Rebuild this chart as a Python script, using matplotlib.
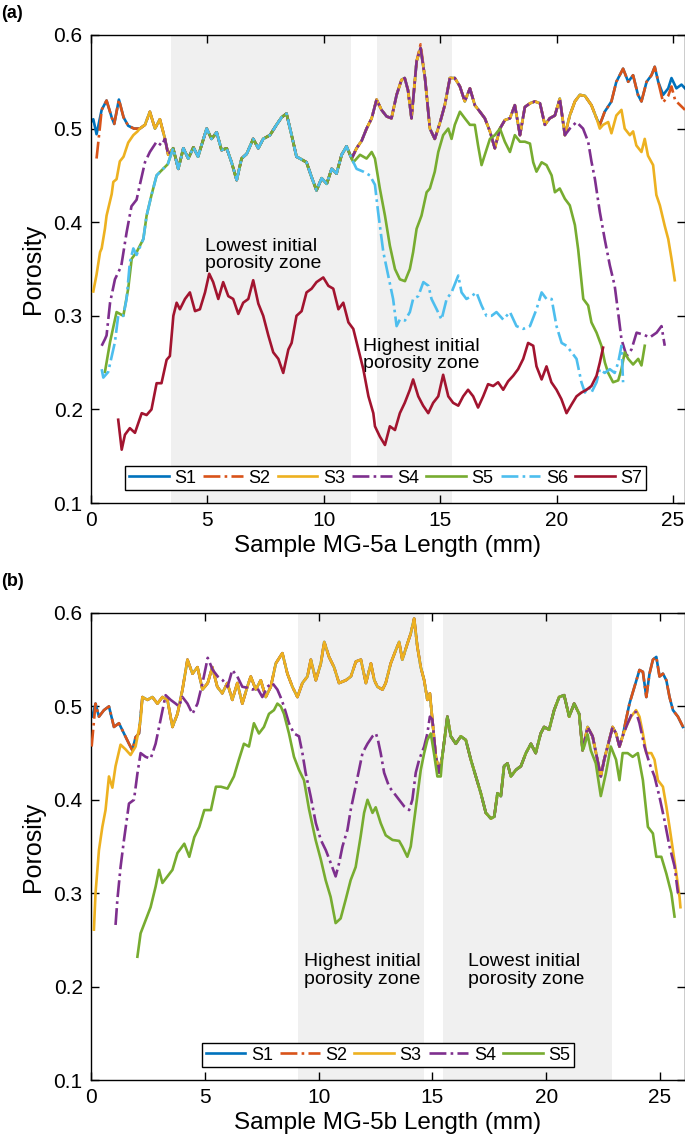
import matplotlib
matplotlib.use('Agg')
import matplotlib.pyplot as plt

plt.rcParams['font.family'] = ['Liberation Sans', 'DejaVu Sans']

# MATLAB default colour order
COLORS = ['#0072BD', '#D95319', '#EDB120', '#7E2F8E', '#77AC30', '#4DBEEE', '#A2142F']
STYLES = ['-', '-.', '-', '-.', '-', '-.', '-']
NAMES = ['S1', 'S2', 'S3', 'S4', 'S5', 'S6', 'S7']


def seg(pts, lo, hi):
    # part of a profile where another scan follows it
    return [p for p in pts if lo <= p[0] <= hi]


# --- (a) sample MG-5a : (length mm, porosity) ---
s1_a = [(0.0, 0.507), (0.1, 0.51), (0.24, 0.494), (0.46, 0.52), (0.67, 0.53), (0.89, 0.512),
        (1.0, 0.505), (1.2, 0.531), (1.4, 0.512), (1.6, 0.503), (1.85, 0.50), (2.1, 0.50),
        (2.32, 0.504), (2.53, 0.518), (2.75, 0.50), (2.96, 0.51), (3.18, 0.489), (3.32, 0.472),
        (3.53, 0.479), (3.75, 0.457), (3.97, 0.479), (4.18, 0.468), (4.4, 0.48), (4.6, 0.47),
        (4.97, 0.50), (5.18, 0.489), (5.4, 0.496), (5.61, 0.477), (5.83, 0.479), (6.04, 0.464),
        (6.26, 0.445), (6.47, 0.468), (6.69, 0.473), (6.97, 0.489), (7.19, 0.479), (7.4, 0.489),
        (7.69, 0.493), (7.97, 0.504), (8.19, 0.512), (8.4, 0.516), (8.62, 0.493), (8.83, 0.47),
        (9.05, 0.467), (9.26, 0.464), (9.48, 0.448), (9.69, 0.434), (9.91, 0.447), (10.13, 0.441),
        (10.34, 0.457), (10.55, 0.452), (10.77, 0.472), (10.98, 0.481), (11.2, 0.468), (11.41, 0.479),
        (11.63, 0.487), (11.84, 0.50), (12.06, 0.511), (12.27, 0.531), (12.48, 0.52), (12.7, 0.513),
        (12.91, 0.511), (13.13, 0.536), (13.34, 0.552), (13.48, 0.554), (13.62, 0.541), (13.77, 0.511),
        (13.99, 0.572), (14.16, 0.586), (14.35, 0.554), (14.56, 0.50), (14.77, 0.489), (14.99, 0.506),
        (15.2, 0.525), (15.42, 0.554), (15.63, 0.554), (15.85, 0.545), (16.06, 0.529), (16.28, 0.543),
        (16.49, 0.525), (16.71, 0.518), (16.92, 0.511), (17.14, 0.497), (17.35, 0.479), (17.57, 0.50),
        (17.78, 0.509), (18.0, 0.511), (18.21, 0.525), (18.43, 0.493), (18.64, 0.523), (18.86, 0.527),
        (19.07, 0.529), (19.29, 0.527), (19.5, 0.504), (19.71, 0.511), (19.93, 0.514), (20.14, 0.532),
        (20.36, 0.493), (20.57, 0.514), (20.79, 0.529), (21.0, 0.536), (21.22, 0.535), (21.5, 0.525),
        (21.72, 0.511), (21.86, 0.504), (22.07, 0.518), (22.36, 0.529), (22.57, 0.55), (22.86, 0.564),
        (23.08, 0.55), (23.29, 0.557), (23.5, 0.536), (23.65, 0.529), (23.87, 0.55), (24.08, 0.557),
        (24.22, 0.566), (24.37, 0.55), (24.58, 0.536), (24.8, 0.543), (24.94, 0.554), (25.15, 0.543),
        (25.37, 0.547), (25.52, 0.543)]

s2_a_start = [(0.24, 0.468), (0.39, 0.503)]
s2_a_end = [(24.58, 0.528), (24.8, 0.535), (24.94, 0.545), (25.1, 0.53), (25.23, 0.527), (25.52, 0.52)]

s3_a_start = [(0.1, 0.326), (0.17, 0.335), (0.24, 0.344), (0.39, 0.368), (0.46, 0.372), (0.6, 0.393),
              (0.67, 0.407), (0.89, 0.43), (0.96, 0.443), (1.1, 0.446), (1.24, 0.465), (1.4, 0.47),
              (1.6, 0.485), (1.82, 0.493), (2.0, 0.497)]
s3_a_end = [(21.86, 0.50), (22.0, 0.504), (22.22, 0.507), (22.36, 0.495), (22.57, 0.514), (22.79, 0.52),
            (22.93, 0.50), (23.15, 0.493), (23.29, 0.497), (23.43, 0.482), (23.65, 0.475), (23.79, 0.489),
            (23.93, 0.471), (24.15, 0.461), (24.29, 0.429), (24.44, 0.418), (24.65, 0.396), (24.8, 0.382),
            (24.94, 0.361), (25.08, 0.338)]

s4_a_start = [(0.46, 0.268), (0.6, 0.275), (0.67, 0.279), (0.82, 0.314), (1.03, 0.339), (1.3, 0.353),
              (1.53, 0.389), (1.74, 0.417), (1.96, 0.424), (2.1, 0.44), (2.32, 0.464), (2.53, 0.475),
              (2.82, 0.486), (3.03, 0.482)]
s4_a_end = [(20.57, 0.50), (20.86, 0.507), (21.14, 0.50), (21.36, 0.486), (21.5, 0.465), (21.65, 0.446),
            (21.86, 0.411), (22.07, 0.382), (22.29, 0.354), (22.5, 0.332), (22.65, 0.303), (22.79, 0.275),
            (23.01, 0.257), (23.22, 0.264), (23.44, 0.282), (23.72, 0.28), (24.01, 0.277), (24.3, 0.282),
            (24.51, 0.289), (24.65, 0.268)]

s5_a_start = [(0.6, 0.24), (0.82, 0.272), (1.1, 0.304), (1.39, 0.30), (1.6, 0.329), (1.75, 0.361),
              (1.96, 0.368), (2.25, 0.382), (2.39, 0.407), (2.6, 0.429), (2.82, 0.45), (3.1, 0.457),
              (3.3, 0.462)]
s5_a_end = [(11.27, 0.464), (11.56, 0.472), (11.84, 0.468), (12.06, 0.475), (12.2, 0.468), (12.41, 0.436),
            (12.63, 0.407), (12.84, 0.375), (13.06, 0.35), (13.27, 0.339), (13.49, 0.337), (13.7, 0.35),
            (13.84, 0.368), (13.99, 0.393), (14.2, 0.407), (14.42, 0.432), (14.56, 0.436), (14.77, 0.454),
            (14.92, 0.475), (15.13, 0.493), (15.35, 0.50), (15.49, 0.489), (15.63, 0.504), (15.85, 0.518),
            (16.06, 0.511), (16.28, 0.504), (16.49, 0.504), (16.63, 0.482), (16.78, 0.461), (16.92, 0.472),
            (17.14, 0.489), (17.35, 0.493), (17.57, 0.50), (17.78, 0.486), (18.0, 0.475), (18.21, 0.493),
            (18.43, 0.486), (18.64, 0.486), (18.86, 0.484), (19.0, 0.464), (19.14, 0.454), (19.36, 0.464),
            (19.57, 0.461), (19.79, 0.45), (19.93, 0.432), (20.14, 0.436), (20.36, 0.425), (20.57, 0.418),
            (20.79, 0.397), (20.93, 0.371), (21.15, 0.318), (21.36, 0.311), (21.5, 0.293), (21.72, 0.282),
            (21.93, 0.268), (22.08, 0.25), (22.22, 0.239), (22.43, 0.229), (22.65, 0.231), (22.79, 0.243),
            (22.93, 0.261), (23.08, 0.254), (23.29, 0.248), (23.51, 0.254), (23.65, 0.247), (23.79, 0.268)]

s6_a_start = [(0.46, 0.243), (0.53, 0.234), (0.74, 0.24), (1.03, 0.272), (1.17, 0.30), (1.39, 0.30),
              (1.53, 0.318), (1.67, 0.357), (1.82, 0.372), (1.96, 0.365), (2.25, 0.382), (2.39, 0.407),
              (2.6, 0.429), (2.82, 0.45), (3.1, 0.457), (3.3, 0.462)]
s6_a_end = [(11.41, 0.457), (11.7, 0.454), (11.98, 0.45), (12.2, 0.44), (12.34, 0.41), (12.56, 0.368),
            (12.77, 0.343), (12.98, 0.318), (13.13, 0.289), (13.27, 0.296), (13.49, 0.295), (13.7, 0.304),
            (13.84, 0.318), (14.06, 0.321), (14.28, 0.336), (14.5, 0.332), (14.63, 0.318), (14.85, 0.307),
            (15.06, 0.296), (15.28, 0.318), (15.49, 0.325), (15.78, 0.343), (15.92, 0.325), (16.13, 0.318),
            (16.35, 0.321), (16.56, 0.325), (16.78, 0.311), (16.99, 0.30), (17.21, 0.30), (17.42, 0.304),
            (17.71, 0.296), (18.0, 0.304), (18.28, 0.289), (18.57, 0.286), (18.86, 0.289), (19.14, 0.307),
            (19.36, 0.325), (19.57, 0.318), (19.79, 0.318), (20.0, 0.289), (20.22, 0.271), (20.43, 0.268),
            (20.65, 0.261), (20.86, 0.254), (21.07, 0.229), (21.22, 0.218), (21.36, 0.225), (21.5, 0.218),
            (21.72, 0.229), (21.86, 0.243), (22.07, 0.239), (22.29, 0.243), (22.5, 0.239), (22.65, 0.25),
            (22.79, 0.268), (22.86, 0.229)]

s7_a = [(1.17, 0.189), (1.32, 0.157), (1.46, 0.173), (1.67, 0.18), (1.89, 0.175), (2.18, 0.196),
        (2.39, 0.194), (2.6, 0.20), (2.82, 0.228), (3.03, 0.228), (3.25, 0.253), (3.39, 0.257),
        (3.54, 0.30), (3.68, 0.314), (3.82, 0.307), (4.04, 0.318), (4.25, 0.325), (4.47, 0.305),
        (4.68, 0.307), (4.9, 0.325), (5.08, 0.345), (5.25, 0.336), (5.47, 0.318), (5.68, 0.336),
        (5.9, 0.321), (6.11, 0.318), (6.33, 0.302), (6.54, 0.314), (6.76, 0.318), (6.97, 0.338),
        (7.19, 0.313), (7.4, 0.30), (7.62, 0.279), (7.83, 0.261), (8.05, 0.254), (8.26, 0.239),
        (8.48, 0.264), (8.62, 0.271), (8.83, 0.30), (9.05, 0.305), (9.26, 0.325), (9.48, 0.329),
        (9.69, 0.336), (9.98, 0.341), (10.2, 0.332), (10.41, 0.329), (10.63, 0.307), (10.84, 0.314),
        (11.06, 0.293), (11.27, 0.286), (11.49, 0.264), (11.7, 0.243), (11.92, 0.214), (12.13, 0.196),
        (12.2, 0.182), (12.41, 0.171), (12.63, 0.162), (12.84, 0.182), (13.06, 0.178), (13.27, 0.196),
        (13.48, 0.207), (13.7, 0.221), (13.84, 0.232), (14.06, 0.214), (14.27, 0.204), (14.49, 0.196),
        (14.7, 0.207), (14.92, 0.214), (15.13, 0.237), (15.35, 0.214), (15.56, 0.207), (15.78, 0.204),
        (15.99, 0.214), (16.2, 0.221), (16.42, 0.214), (16.63, 0.202), (16.85, 0.214), (17.06, 0.227),
        (17.28, 0.225), (17.49, 0.229), (17.71, 0.221), (17.92, 0.23), (18.14, 0.236), (18.35, 0.243),
        (18.57, 0.254), (18.78, 0.271), (19.0, 0.268), (19.14, 0.246), (19.36, 0.232), (19.57, 0.246),
        (19.78, 0.229), (20.0, 0.221), (20.21, 0.211), (20.43, 0.196), (20.64, 0.205), (20.86, 0.214),
        (21.07, 0.218), (21.29, 0.221), (21.5, 0.225), (21.72, 0.236), (21.86, 0.25), (22.0, 0.266)]

# --- (b) sample MG-5b ---
s1_b = [(0.0, 0.49), (0.06, 0.489), (0.2, 0.503), (0.35, 0.489), (0.57, 0.496), (0.79, 0.50),
        (1.01, 0.478), (1.23, 0.482), (1.45, 0.471), (1.67, 0.46), (1.82, 0.453), (1.96, 0.467),
        (2.11, 0.471), (2.26, 0.51), (2.48, 0.507), (2.7, 0.51), (2.92, 0.503), (3.14, 0.51),
        (3.36, 0.507), (3.58, 0.478), (3.8, 0.492), (4.02, 0.518), (4.24, 0.55), (4.46, 0.535),
        (4.68, 0.542), (4.9, 0.518), (5.13, 0.525), (5.33, 0.542), (5.55, 0.521), (5.77, 0.514),
        (5.99, 0.525), (6.21, 0.507), (6.43, 0.525), (6.65, 0.503), (6.87, 0.521), (7.02, 0.532),
        (7.24, 0.518), (7.46, 0.528), (7.68, 0.51), (7.9, 0.521), (8.12, 0.546), (8.41, 0.557),
        (8.63, 0.535), (8.85, 0.521), (9.07, 0.51), (9.29, 0.525), (9.51, 0.532), (9.66, 0.55),
        (9.88, 0.528), (10.1, 0.546), (10.25, 0.569), (10.46, 0.553), (10.68, 0.542), (10.9, 0.525),
        (11.2, 0.528), (11.42, 0.532), (11.64, 0.548), (11.86, 0.55), (12.08, 0.525), (12.3, 0.546),
        (12.45, 0.528), (12.59, 0.521), (12.81, 0.518), (12.95, 0.525), (13.17, 0.546), (13.39, 0.56),
        (13.54, 0.569), (13.68, 0.55), (13.9, 0.567), (14.05, 0.578), (14.2, 0.594), (14.34, 0.564),
        (14.49, 0.542), (14.64, 0.528), (14.78, 0.507), (14.89, 0.514), (15.0, 0.486), (15.15, 0.447),
        (15.3, 0.429), (15.44, 0.447), (15.66, 0.489), (15.81, 0.468), (16.03, 0.46), (16.25, 0.468),
        (16.47, 0.464), (16.69, 0.443), (16.91, 0.425), (17.13, 0.407), (17.35, 0.386), (17.57, 0.38),
        (17.72, 0.382), (17.86, 0.407), (18.01, 0.404), (18.15, 0.436), (18.3, 0.439), (18.45, 0.425),
        (18.67, 0.432), (18.89, 0.436), (19.11, 0.45), (19.33, 0.46), (19.54, 0.45), (19.76, 0.471),
        (19.91, 0.478), (20.13, 0.475), (20.35, 0.496), (20.57, 0.51), (20.79, 0.512), (21.01, 0.489),
        (21.23, 0.503), (21.45, 0.492), (21.6, 0.453), (21.82, 0.478), (22.04, 0.468), (22.19, 0.45),
        (22.4, 0.425), (22.55, 0.443), (22.7, 0.457), (22.92, 0.478), (23.07, 0.471), (23.22, 0.457),
        (23.36, 0.468), (23.51, 0.486), (23.66, 0.503), (23.88, 0.521), (24.1, 0.539), (24.25, 0.537),
        (24.4, 0.51), (24.54, 0.535), (24.69, 0.55), (24.84, 0.553), (24.98, 0.532), (25.13, 0.535),
        (25.28, 0.528), (25.42, 0.51), (25.57, 0.496), (25.79, 0.489), (26.01, 0.478)]

s2_b_start = [(0.03, 0.457), (0.15, 0.49)]
s2_b_end = [(26.1, 0.474)]

s3_b_start = [(0.13, 0.261), (0.2, 0.30), (0.35, 0.346), (0.5, 0.371), (0.64, 0.389), (0.79, 0.425),
              (0.94, 0.413), (1.08, 0.436), (1.3, 0.459), (1.52, 0.454), (1.74, 0.448), (1.96, 0.457),
              (2.18, 0.485)]
s3_b_end = [(23.51, 0.478), (23.73, 0.489), (23.95, 0.496), (24.1, 0.489), (24.25, 0.471), (24.4, 0.45),
            (24.62, 0.45), (24.76, 0.443), (24.91, 0.421), (25.13, 0.414), (25.28, 0.393), (25.42, 0.371),
            (25.57, 0.346), (25.72, 0.321), (25.86, 0.296), (25.9, 0.285)]

s4_b_start = [(1.08, 0.266), (1.16, 0.293), (1.3, 0.328), (1.45, 0.357), (1.67, 0.396), (1.89, 0.40),
              (2.04, 0.428), (2.18, 0.45), (2.4, 0.446), (2.62, 0.444), (2.84, 0.46), (3.06, 0.486),
              (3.28, 0.512), (3.5, 0.507), (3.72, 0.503), (3.87, 0.50), (4.02, 0.51), (4.24, 0.503),
              (4.46, 0.492), (4.68, 0.503), (4.9, 0.525), (5.13, 0.552), (5.35, 0.539), (5.57, 0.532),
              (5.79, 0.528), (6.0, 0.521), (6.21, 0.539), (6.43, 0.532), (6.65, 0.521), (6.87, 0.52),
              (7.1, 0.518), (7.3, 0.52), (7.53, 0.51), (7.75, 0.521), (7.97, 0.525), (8.19, 0.518),
              (8.33, 0.51), (8.48, 0.50), (8.7, 0.482), (8.92, 0.471), (9.14, 0.468), (9.29, 0.45),
              (9.43, 0.429), (9.65, 0.404), (9.88, 0.375), (10.1, 0.357), (10.32, 0.346), (10.54, 0.332),
              (10.75, 0.318), (10.9, 0.332), (11.05, 0.35), (11.27, 0.368), (11.41, 0.389), (11.6, 0.411),
              (11.93, 0.45), (12.15, 0.46), (12.37, 0.468), (12.52, 0.471), (12.6, 0.465), (12.73, 0.45),
              (12.88, 0.429), (13.1, 0.414), (13.32, 0.407), (13.54, 0.40), (13.76, 0.393), (13.98, 0.389),
              (14.12, 0.40), (14.27, 0.429), (14.42, 0.443), (14.64, 0.457), (14.78, 0.471), (14.89, 0.489)]
s4_b_end = [(23.58, 0.482), (23.8, 0.494), (23.95, 0.494), (24.1, 0.482), (24.32, 0.457), (24.54, 0.439),
            (24.76, 0.425), (24.98, 0.403), (25.2, 0.378), (25.42, 0.35), (25.64, 0.329), (25.79, 0.30)]

s5_b_start = [(2.04, 0.232), (2.18, 0.257), (2.4, 0.271), (2.62, 0.285), (2.84, 0.307), (2.99, 0.325),
              (3.14, 0.311), (3.36, 0.318), (3.58, 0.325), (3.8, 0.343), (4.1, 0.353), (4.32, 0.339),
              (4.54, 0.36), (4.76, 0.371), (4.98, 0.389), (5.27, 0.389), (5.49, 0.414), (5.71, 0.414),
              (6.0, 0.412), (6.28, 0.425), (6.5, 0.443), (6.72, 0.46), (6.94, 0.457), (7.16, 0.482),
              (7.38, 0.471), (7.6, 0.478), (7.82, 0.492), (8.04, 0.496), (8.19, 0.503), (8.34, 0.50),
              (8.48, 0.492), (8.7, 0.471), (8.92, 0.446), (9.14, 0.432), (9.36, 0.421), (9.58, 0.39),
              (9.87, 0.357), (10.1, 0.336), (10.31, 0.314), (10.53, 0.296), (10.75, 0.268), (10.97, 0.273),
              (11.19, 0.293), (11.41, 0.314), (11.63, 0.328), (11.85, 0.361), (12.0, 0.386), (12.15, 0.40),
              (12.37, 0.386), (12.51, 0.392), (12.73, 0.375), (12.95, 0.362), (13.25, 0.357), (13.54, 0.356),
              (13.68, 0.35), (13.9, 0.339), (14.05, 0.35), (14.2, 0.378), (14.34, 0.404), (14.49, 0.432),
              (14.64, 0.45), (14.78, 0.464), (14.93, 0.471), (15.07, 0.45), (15.22, 0.425), (15.37, 0.425)]
s5_b_end = [(21.67, 0.457), (21.82, 0.47), (21.96, 0.453), (22.18, 0.439), (22.4, 0.404), (22.62, 0.428),
            (22.84, 0.457), (23.07, 0.443), (23.22, 0.421), (23.36, 0.45), (23.58, 0.45), (23.8, 0.446),
            (24.03, 0.45), (24.25, 0.421), (24.47, 0.371), (24.69, 0.364), (24.84, 0.339), (25.06, 0.339),
            (25.28, 0.321), (25.5, 0.30), (25.64, 0.275)]

series_a = [
    s1_a,
    s2_a_start + seg(s1_a, 0.45, 14.0) + [(14.16, 0.59)] + seg(s1_a, 14.3, 24.4) + s2_a_end,
    s3_a_start + seg(s1_a, 2.05, 21.75) + s3_a_end,
    s4_a_start + seg(s1_a, 3.1, 20.4) + s4_a_end,
    s5_a_start + seg(s1_a, 3.5, 11.2) + s5_a_end,
    s6_a_start + seg(s1_a, 3.5, 11.2) + s6_a_end,
    s7_a,
]
series_b = [
    s1_b,
    s2_b_start + seg(s1_b, 0.2, 25.9) + s2_b_end,
    s3_b_start + seg(s1_b, 2.25, 23.4) + s3_b_end,
    s4_b_start + seg(s1_b, 14.95, 23.4) + s4_b_end,
    s5_b_start + seg(s1_b, 15.4, 21.62) + s5_b_end,
]

zones_a = [(3.45, 11.15), (12.3, 15.5)]
zones_b = [(9.1, 14.65), (15.45, 22.9)]


def style_axes(ax, xmax, xlabel):
    ax.set_xlim(0, xmax)
    ax.set_ylim(0.1, 0.6)
    ax.set_xticks([0, 5, 10, 15, 20, 25])
    ax.set_yticks([0.1, 0.2, 0.3, 0.4, 0.5, 0.6])
    ax.set_yticklabels(['0.1', '0.2', '0.3', '0.4', '0.5', '0.6'])
    ax.tick_params(direction='in', top=True, right=True, length=6, width=1,
                   labelsize=15, pad=6, colors='black')
    for sp in ax.spines.values():
        sp.set_linewidth(1.0)
    ax.set_xlabel(xlabel, fontsize=17.5, labelpad=3)
    ax.set_ylabel('Porosity', fontsize=18, labelpad=6)


def draw(ax, series, zones):
    for lo, hi in zones:
        ax.axvspan(lo, hi, color='#f0f0f0', lw=0, zorder=0)
    for i, pts in enumerate(series):
        xs = [p[0] for p in pts]
        ys = [p[1] for p in pts]
        ax.plot(xs, ys, color=COLORS[i], ls=STYLES[i], lw=1.9, label=NAMES[i], zorder=2 + i)


def add_legend(ax, ncol, xc):
    leg = ax.legend(loc='lower center', bbox_to_anchor=(xc, 0.027), ncol=ncol, fontsize=13,
                    handlelength=2.2, handletextpad=0.3, columnspacing=0.4, borderpad=0.2,
                    borderaxespad=0, fancybox=False, framealpha=1, edgecolor='black')
    leg.get_frame().set_linewidth(1.0)


fig = plt.figure(figsize=(6.85, 11.43), dpi=100)
ax_a = fig.add_axes([0.1328, 0.5599, 0.8672, 0.4095])
ax_b = fig.add_axes([0.1328, 0.0551, 0.8672, 0.4086])

draw(ax_a, series_a, zones_a)
style_axes(ax_a, 25.52, 'Sample MG-5a Length (mm)')
ax_a.text(4.9, 0.365, 'Lowest initial\nporosity zone', fontsize=14, ha='left', va='center', linespacing=1.05)
ax_a.text(11.68, 0.258, 'Highest initial\nporosity zone', fontsize=14, ha='left', va='center', linespacing=1.05)
add_legend(ax_a, 7, 0.496)

draw(ax_b, series_b, zones_b)
style_axes(ax_b, 26.1, 'Sample MG-5b Length (mm)')
ax_b.text(9.38, 0.217, 'Highest initial\nporosity zone', fontsize=14, ha='left', va='center', linespacing=1.05)
ax_b.text(16.55, 0.217, 'Lowest initial\nporosity zone', fontsize=14, ha='left', va='center', linespacing=1.05)
add_legend(ax_b, 5, 0.5)

fig.text(0.001, 0.996, '(a)', fontsize=13, fontweight='bold', ha='left', va='top')
fig.text(0.001, 0.499, '(b)', fontsize=13, fontweight='bold', ha='left', va='top')

fig.savefig('out.png', dpi=100)
